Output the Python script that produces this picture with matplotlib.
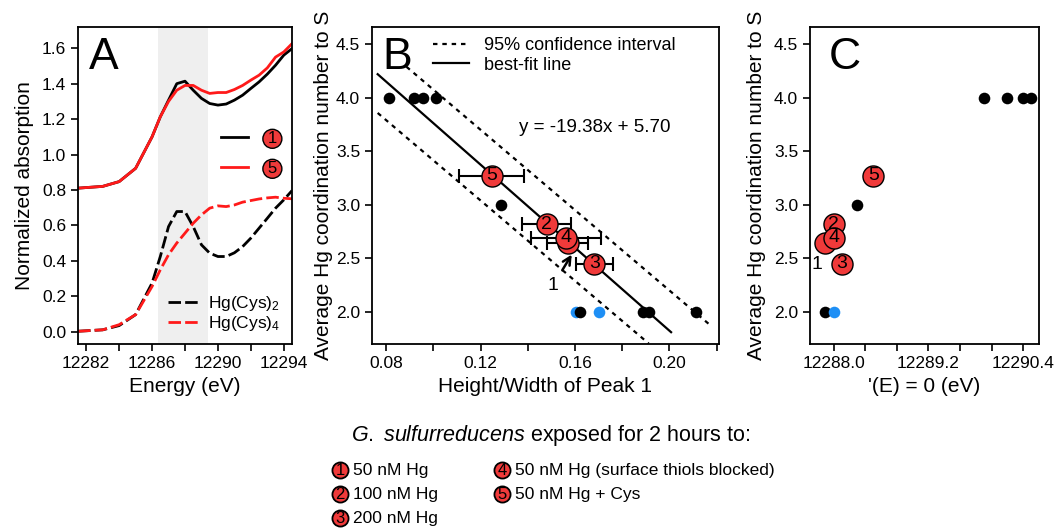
import numpy as np
import matplotlib
matplotlib.use('Agg')
import matplotlib.pyplot as plt
from matplotlib.ticker import MultipleLocator, FormatStrFormatter

plt.rcParams['font.family'] = ['Liberation Sans', 'DejaVu Sans']
plt.rcParams['mathtext.fontset'] = 'custom'
plt.rcParams['mathtext.rm'] = 'Liberation Sans'
plt.rcParams['mathtext.it'] = 'Liberation Sans:italic'
plt.rcParams['axes.linewidth'] = 1.3
plt.rcParams['xtick.major.width'] = 1.2
plt.rcParams['ytick.major.width'] = 1.2
plt.rcParams['xtick.minor.width'] = 1.2
plt.rcParams['xtick.major.size'] = 5
plt.rcParams['xtick.minor.size'] = 5
plt.rcParams['ytick.major.size'] = 5

RED = '#ff1a1a'
MRED = '#f03a3a'
BLUE = '#1e8ff5'

# ---- panel A: XANES spectra
energy = [12281.5, 12283, 12284, 12285, 12286, 12286.5, 12287, 12287.5, 12288,
          12288.5, 12289, 12289.5, 12290, 12290.5, 12291, 12291.5, 12292, 12292.5,
          12293, 12293.5, 12294, 12294.5]
sample1 = [0.81, 0.82, 0.847, 0.922, 1.10, 1.213, 1.307, 1.40, 1.414,
           1.363, 1.317, 1.288, 1.279, 1.285, 1.307, 1.335, 1.373, 1.41,
           1.454, 1.504, 1.561, 1.598]
sample5 = [0.81, 0.82, 0.847, 0.922, 1.10, 1.213, 1.30, 1.363, 1.39,
           1.39, 1.363, 1.345, 1.35, 1.35, 1.367, 1.39, 1.42, 1.448,
           1.489, 1.55, 1.579, 1.626]
hg_cys2 = [0.002, 0.01, 0.034, 0.096, 0.274, 0.424, 0.593, 0.678, 0.678,
           0.593, 0.49, 0.443, 0.424, 0.424, 0.445, 0.48, 0.528, 0.584,
           0.64, 0.697, 0.744, 0.796]
hg_cys4 = [0.002, 0.01, 0.039, 0.096, 0.255, 0.349, 0.434, 0.50, 0.556,
           0.612, 0.659, 0.697, 0.71, 0.706, 0.715, 0.731, 0.74, 0.749,
           0.755, 0.759, 0.753, 0.75]
peak_window = (12286.35, 12289.4)
energy_ticks = [12282, 12286, 12290, 12294]
energy_minor = [12284, 12288, 12292]

# ---- panel B / C: model compounds (black), controls (blue), samples (red)
ref_ratio = [0.0814, 0.0918, 0.0956, 0.1012, 0.1286, 0.1623, 0.189, 0.1915, 0.2113]
ref_cn = [4.0, 4.0, 4.0, 4.0, 3.0, 2.0, 2.0, 2.0, 2.0]
ctrl_ratio = [0.1606, 0.1702]
ctrl_cn = [2.0, 2.0]

samp_ids = ['1', '2', '3', '4', '5']
samp_ratio = [0.1569, 0.148, 0.1682, 0.1562, 0.1247]
samp_err = [0.0086, 0.0105, 0.0078, 0.015, 0.0138]
samp_cn = [2.64, 2.82, 2.45, 2.69, 3.27]

fit_slope, fit_icpt = -19.38, 5.70
fit_range = (0.0764, 0.2007)
ci_slope = -18.75
ci_upper_icpt, ci_lower_icpt = 5.95, 5.29
ci_upper_range = (0.0886, 0.2178)
ci_lower_range = (0.0764, 0.1912)

ref_e0 = [12289.909, 12290.193, 12290.396, 12290.50, 12288.296, 12287.895]
ref_e0_cn = [4.0, 4.0, 4.0, 4.0, 3.0, 2.0]
ctrl_e0 = [12288.004]
ctrl_e0_cn = [2.0]
samp_e0 = [12287.886, 12288.0, 12288.105, 12288.0, 12288.50]

legend_items = ['50 nM Hg', '100 nM Hg', '200 nM Hg',
                '50 nM Hg (surface thiols blocked)', '50 nM Hg + Cys']

fig = plt.figure(figsize=(10.54, 5.29), dpi=100)
W, H = 1054.0, 529.0


def axes_px(left, right, top, bottom):
    return fig.add_axes([left / W, 1 - bottom / H, (right - left) / W, (bottom - top) / H])


axA = axes_px(78, 292, 27, 344)
axB = axes_px(372, 719, 27, 344)
axC = axes_px(810, 1039, 27, 344)

# ---------- A
axA.axvspan(*peak_window, color='#efefef', zorder=0, lw=0)
l1, = axA.plot(energy, sample1, color='black', lw=2)
l5, = axA.plot(energy, sample5, color=RED, lw=2)
d2, = axA.plot(energy, hg_cys2, color='black', lw=2, dashes=(4.5, 1.5))
d4, = axA.plot(energy, hg_cys4, color=RED, lw=2, dashes=(4.5, 1.5))
axA.set_xlim(12281.5, 12294.5)
axA.set_ylim(-0.07, 1.72)
axA.set_xticks(energy_ticks)
axA.set_xticks(energy_minor, minor=True)
axA.yaxis.set_major_locator(MultipleLocator(0.2))
axA.yaxis.set_major_formatter(FormatStrFormatter('%.1f'))
axA.set_xlabel('Energy (eV)', fontsize=15)
axA.set_ylabel('Normalized absorption', fontsize=15, labelpad=6)
axA.text(0.05, 0.97, 'A', transform=axA.transAxes, fontsize=32, va='top', ha='left')

legA1 = axA.legend([l1, l5], ['1', '5'], loc='center right', bbox_to_anchor=(1.0, 0.6),
                   frameon=False, handlelength=1.6, handletextpad=1.2, fontsize=12,
                   labelspacing=0.9)
for t in legA1.get_texts():
    t.set_bbox(dict(boxstyle='circle,pad=0.12', fc=MRED, ec='black', lw=1))
axA.add_artist(legA1)
axA.legend([d2, d4], ['Hg(Cys)$_2$', 'Hg(Cys)$_4$'], loc='lower right',
           bbox_to_anchor=(1.02, -0.015), frameon=False, handlelength=1.9,
           handletextpad=0.4, fontsize=12.5, labelspacing=0.05)

# ---------- B
xf = np.array(fit_range)
axB.plot(xf, fit_slope * xf + fit_icpt, color='black', lw=1.6, label='best-fit line')
xu = np.array(ci_upper_range)
axB.plot(xu, ci_slope * xu + ci_upper_icpt, color='black', lw=1.6, dashes=(2, 2.2),
         label='95% confidence interval')
xl = np.array(ci_lower_range)
axB.plot(xl, ci_slope * xl + ci_lower_icpt, color='black', lw=1.6, dashes=(2, 2.2))

axB.scatter(ctrl_ratio, ctrl_cn, s=70, color=BLUE, zorder=3, lw=0)
axB.scatter(ref_ratio, ref_cn, s=70, color='black', zorder=3, lw=0)
axB.errorbar(samp_ratio, samp_cn, xerr=samp_err, fmt='none', ecolor='black',
             elinewidth=1.5, capsize=5, capthick=1.5, zorder=4)
for sid, xv, yv in zip(samp_ids, samp_ratio, samp_cn):
    axB.scatter([xv], [yv], s=230, color=MRED, edgecolor='black', lw=1, zorder=5)
    if sid != '1':
        axB.text(xv, yv, sid, ha='center', va='center', fontsize=14, zorder=6)
axB.annotate('1', xy=(0.1586, 2.535), xytext=(0.1508, 2.25),
             fontsize=14, ha='center', va='center',
             arrowprops=dict(arrowstyle='->', lw=1.8, color='black', shrinkA=3, shrinkB=0))
axB.text(0.1363, 3.72, 'y = -19.38x + 5.70', fontsize=13.5, ha='left', va='center')

axB.set_xlim(0.074, 0.221)
axB.set_ylim(1.70, 4.66)
axB.xaxis.set_major_locator(MultipleLocator(0.04))
axB.xaxis.set_minor_locator(MultipleLocator(0.02))
axB.xaxis.set_major_formatter(FormatStrFormatter('%.2f'))
axB.yaxis.set_major_locator(MultipleLocator(0.5))
axB.yaxis.set_major_formatter(FormatStrFormatter('%.1f'))
axB.set_xlabel('Height/Width of Peak 1', fontsize=15)
axB.set_ylabel('Average Hg coordination number to S', fontsize=15, labelpad=2)
axB.text(0.03, 0.97, 'B', transform=axB.transAxes, fontsize=32, va='top', ha='left')
hB, lB = axB.get_legend_handles_labels()
axB.legend(hB[::-1], lB[::-1], loc='upper left', bbox_to_anchor=(0.13, 1.02),
           frameon=False, fontsize=13, handlelength=1.95, handletextpad=0.85,
           labelspacing=0.15)

# ---------- C
axC.scatter(ref_e0, ref_e0_cn, s=70, color='black', zorder=3, lw=0)
axC.scatter(ctrl_e0, ctrl_e0_cn, s=70, color=BLUE, zorder=3, lw=0)
for sid, xv, yv in zip(samp_ids, samp_e0, samp_cn):
    axC.scatter([xv], [yv], s=230, color=MRED, edgecolor='black', lw=1, zorder=5)
    if sid != '1':
        axC.text(xv, yv, sid, ha='center', va='center', fontsize=14, zorder=6)
axC.text(12287.79, 2.44, '1', fontsize=14, ha='center', va='center')
axC.set_xlim(12287.70, 12290.60)
axC.set_ylim(1.70, 4.66)
axC.xaxis.set_major_locator(MultipleLocator(1.2))
axC.xaxis.set_minor_locator(MultipleLocator(0.4))
axC.xaxis.set_major_formatter(FormatStrFormatter('%.1f'))
axC.yaxis.set_major_locator(MultipleLocator(0.5))
axC.yaxis.set_major_formatter(FormatStrFormatter('%.1f'))
axC.set_xlabel("'(E) = 0 (eV)", fontsize=15)
axC.set_ylabel('Average Hg coordination number to S', fontsize=15, labelpad=6)
axC.text(0.08, 0.97, 'C', transform=axC.transAxes, fontsize=32, va='top', ha='left')

for ax in (axA, axB, axC):
    ax.tick_params(labelsize=12.5, direction='out')
    ax.tick_params(axis='x', which='both', pad=4)

# ---------- bottom key
lax = fig.add_axes([0, 0, 1, 1])
lax.set_xlim(0, W)
lax.set_ylim(H, 0)
lax.axis('off')
lax.text(551, 435, r'$\mathit{G.}$ $\mathit{sulfurreducens}$ exposed for 2 hours to:',
         fontsize=15.5, ha='center', va='center')
key_x = [340, 340, 340, 502, 502]
key_y = [470, 494, 518, 470, 494]
for sid, kx, ky, lab in zip(samp_ids, key_x, key_y, legend_items):
    lax.scatter([kx], [ky], s=135, color=MRED, edgecolor='black', lw=1.3)
    lax.text(kx, ky + 0.5, sid, fontsize=12, ha='center', va='center')
    lax.text(kx + 13, ky, lab, fontsize=12.5, ha='left', va='center')

fig.savefig('out.png', dpi=100)
